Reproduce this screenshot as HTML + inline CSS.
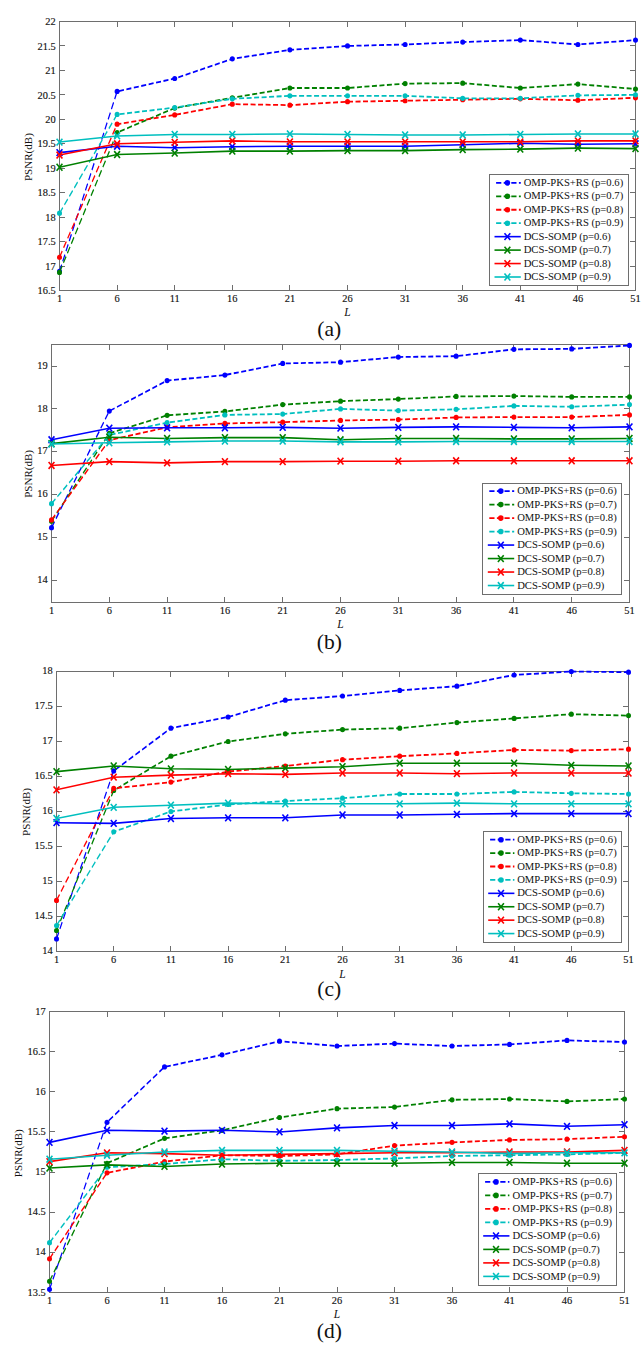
<!DOCTYPE html>
<html><head><meta charset="utf-8"><title>PSNR vs L</title>
<style>
html,body{margin:0;padding:0;background:#fff;}
body{width:641px;height:1358px;overflow:hidden;}
svg{display:block;}
text{font-family:"Liberation Serif",serif;fill:#111111;}
.tk{font-size:10.4px;stroke:#111;stroke-width:0.14px;}
.lg{font-size:10.65px;}
.yl{font-size:11.05px;}
.xl{font-size:11.5px;font-style:italic;}
.cap{font-size:21.5px;}
</style></head>
<body>
<svg width="641" height="1358" viewBox="0 0 641 1358">
<rect x="0" y="0" width="641" height="1358" fill="#ffffff"/>
<g><rect x="59.5" y="21.5" width="576" height="269" fill="none" stroke="#6e6e6e" stroke-width="1"/>
<path d="M59.5 290.5V285M59.5 21.5V27M117.5 290.5V285M117.5 21.5V27M174.5 290.5V285M174.5 21.5V27M232.5 290.5V285M232.5 21.5V27M289.5 290.5V285M289.5 21.5V27M347.5 290.5V285M347.5 21.5V27M405.5 290.5V285M405.5 21.5V27M462.5 290.5V285M462.5 21.5V27M520.5 290.5V285M520.5 21.5V27M577.5 290.5V285M577.5 21.5V27M635.5 290.5V285M635.5 21.5V27M59.5 290.5H65M635.5 290.5H630M59.5 266.5H65M635.5 266.5H630M59.5 241.5H65M635.5 241.5H630M59.5 217.5H65M635.5 217.5H630M59.5 192.5H65M635.5 192.5H630M59.5 168.5H65M635.5 168.5H630M59.5 143.5H65M635.5 143.5H630M59.5 119.5H65M635.5 119.5H630M59.5 94.5H65M635.5 94.5H630M59.5 70.5H65M635.5 70.5H630M59.5 45.5H65M635.5 45.5H630M59.5 21.5H65M635.5 21.5H630" stroke="#6e6e6e" stroke-width="1" fill="none"/>
<text x="59.5" y="301.9" text-anchor="middle" class="tk">1</text>
<text x="117.1" y="301.9" text-anchor="middle" class="tk">6</text>
<text x="174.7" y="301.9" text-anchor="middle" class="tk">11</text>
<text x="232.3" y="301.9" text-anchor="middle" class="tk">16</text>
<text x="289.9" y="301.9" text-anchor="middle" class="tk">21</text>
<text x="347.5" y="301.9" text-anchor="middle" class="tk">26</text>
<text x="405.1" y="301.9" text-anchor="middle" class="tk">31</text>
<text x="462.7" y="301.9" text-anchor="middle" class="tk">36</text>
<text x="520.3" y="301.9" text-anchor="middle" class="tk">41</text>
<text x="577.9" y="301.9" text-anchor="middle" class="tk">46</text>
<text x="635.5" y="301.9" text-anchor="middle" class="tk">51</text>
<text x="55.7" y="294.2" text-anchor="end" class="tk">16.5</text>
<text x="55.7" y="269.75" text-anchor="end" class="tk">17</text>
<text x="55.7" y="245.29" text-anchor="end" class="tk">17.5</text>
<text x="55.7" y="220.84" text-anchor="end" class="tk">18</text>
<text x="55.7" y="196.38" text-anchor="end" class="tk">18.5</text>
<text x="55.7" y="171.93" text-anchor="end" class="tk">19</text>
<text x="55.7" y="147.47" text-anchor="end" class="tk">19.5</text>
<text x="55.7" y="123.02" text-anchor="end" class="tk">20</text>
<text x="55.7" y="98.56" text-anchor="end" class="tk">20.5</text>
<text x="55.7" y="74.11" text-anchor="end" class="tk">21</text>
<text x="55.7" y="49.65" text-anchor="end" class="tk">21.5</text>
<text x="55.7" y="25.2" text-anchor="end" class="tk">22</text>
<text x="347.5" y="315.9" text-anchor="middle" class="xl">L</text>
<text transform="translate(31.6 157.1) rotate(-90)" text-anchor="middle" class="yl">PSNR(dB)</text>
<text x="329.3" y="335.8" text-anchor="middle" class="cap">(a)</text>
<g transform="scale(0.666667 1)"><polyline points="89.25,271.43 175.65,91.44 262.05,78.48 348.45,58.87 434.85,49.87 521.25,45.95 607.65,44.49 694.05,42.04 780.45,40.09 866.85,44.49 953.25,40.09" fill="none" stroke="#0000ff" stroke-width="1.8" stroke-dasharray="7.5 3.75"/></g>
<ellipse cx="59.5" cy="271.43" rx="2.5" ry="2.6" fill="#0000ff"/>
<ellipse cx="117.1" cy="91.44" rx="2.5" ry="2.6" fill="#0000ff"/>
<ellipse cx="174.7" cy="78.48" rx="2.5" ry="2.6" fill="#0000ff"/>
<ellipse cx="232.3" cy="58.87" rx="2.5" ry="2.6" fill="#0000ff"/>
<ellipse cx="289.9" cy="49.87" rx="2.5" ry="2.6" fill="#0000ff"/>
<ellipse cx="347.5" cy="45.95" rx="2.5" ry="2.6" fill="#0000ff"/>
<ellipse cx="405.1" cy="44.49" rx="2.5" ry="2.6" fill="#0000ff"/>
<ellipse cx="462.7" cy="42.04" rx="2.5" ry="2.6" fill="#0000ff"/>
<ellipse cx="520.3" cy="40.09" rx="2.5" ry="2.6" fill="#0000ff"/>
<ellipse cx="577.9" cy="44.49" rx="2.5" ry="2.6" fill="#0000ff"/>
<ellipse cx="635.5" cy="40.09" rx="2.5" ry="2.6" fill="#0000ff"/>
<g transform="scale(0.666667 1)"><polyline points="89.25,272.4 175.65,132.52 262.05,108.07 348.45,97.8 434.85,88.02 521.25,88.02 607.65,83.61 694.05,83.13 780.45,88.02 866.85,84.1 953.25,88.99" fill="none" stroke="#008000" stroke-width="1.8" stroke-dasharray="7.5 3.75"/></g>
<ellipse cx="59.5" cy="272.4" rx="2.5" ry="2.6" fill="#008000"/>
<ellipse cx="117.1" cy="132.52" rx="2.5" ry="2.6" fill="#008000"/>
<ellipse cx="174.7" cy="108.07" rx="2.5" ry="2.6" fill="#008000"/>
<ellipse cx="232.3" cy="97.8" rx="2.5" ry="2.6" fill="#008000"/>
<ellipse cx="289.9" cy="88.02" rx="2.5" ry="2.6" fill="#008000"/>
<ellipse cx="347.5" cy="88.02" rx="2.5" ry="2.6" fill="#008000"/>
<ellipse cx="405.1" cy="83.61" rx="2.5" ry="2.6" fill="#008000"/>
<ellipse cx="462.7" cy="83.13" rx="2.5" ry="2.6" fill="#008000"/>
<ellipse cx="520.3" cy="88.02" rx="2.5" ry="2.6" fill="#008000"/>
<ellipse cx="577.9" cy="84.1" rx="2.5" ry="2.6" fill="#008000"/>
<ellipse cx="635.5" cy="88.99" rx="2.5" ry="2.6" fill="#008000"/>
<g transform="scale(0.666667 1)"><polyline points="89.25,257.24 175.65,124.21 262.05,114.92 348.45,104.16 434.85,105.13 521.25,101.71 607.65,100.73 694.05,99.75 780.45,98.78 866.85,100.24 953.25,97.8" fill="none" stroke="#ff0000" stroke-width="1.8" stroke-dasharray="7.5 3.75"/></g>
<ellipse cx="59.5" cy="257.24" rx="2.5" ry="2.6" fill="#ff0000"/>
<ellipse cx="117.1" cy="124.21" rx="2.5" ry="2.6" fill="#ff0000"/>
<ellipse cx="174.7" cy="114.92" rx="2.5" ry="2.6" fill="#ff0000"/>
<ellipse cx="232.3" cy="104.16" rx="2.5" ry="2.6" fill="#ff0000"/>
<ellipse cx="289.9" cy="105.13" rx="2.5" ry="2.6" fill="#ff0000"/>
<ellipse cx="347.5" cy="101.71" rx="2.5" ry="2.6" fill="#ff0000"/>
<ellipse cx="405.1" cy="100.73" rx="2.5" ry="2.6" fill="#ff0000"/>
<ellipse cx="462.7" cy="99.75" rx="2.5" ry="2.6" fill="#ff0000"/>
<ellipse cx="520.3" cy="98.78" rx="2.5" ry="2.6" fill="#ff0000"/>
<ellipse cx="577.9" cy="100.24" rx="2.5" ry="2.6" fill="#ff0000"/>
<ellipse cx="635.5" cy="97.8" rx="2.5" ry="2.6" fill="#ff0000"/>
<g transform="scale(0.666667 1)"><polyline points="89.25,213.22 175.65,114.43 262.05,107.58 348.45,98.78 434.85,95.84 521.25,95.84 607.65,95.84 694.05,98.29 780.45,98.29 866.85,95.35 953.25,94.86" fill="none" stroke="#00bfbf" stroke-width="1.8" stroke-dasharray="7.5 3.75"/></g>
<ellipse cx="59.5" cy="213.22" rx="2.5" ry="2.6" fill="#00bfbf"/>
<ellipse cx="117.1" cy="114.43" rx="2.5" ry="2.6" fill="#00bfbf"/>
<ellipse cx="174.7" cy="107.58" rx="2.5" ry="2.6" fill="#00bfbf"/>
<ellipse cx="232.3" cy="98.78" rx="2.5" ry="2.6" fill="#00bfbf"/>
<ellipse cx="289.9" cy="95.84" rx="2.5" ry="2.6" fill="#00bfbf"/>
<ellipse cx="347.5" cy="95.84" rx="2.5" ry="2.6" fill="#00bfbf"/>
<ellipse cx="405.1" cy="95.84" rx="2.5" ry="2.6" fill="#00bfbf"/>
<ellipse cx="462.7" cy="98.29" rx="2.5" ry="2.6" fill="#00bfbf"/>
<ellipse cx="520.3" cy="98.29" rx="2.5" ry="2.6" fill="#00bfbf"/>
<ellipse cx="577.9" cy="95.35" rx="2.5" ry="2.6" fill="#00bfbf"/>
<ellipse cx="635.5" cy="94.86" rx="2.5" ry="2.6" fill="#00bfbf"/>
<g transform="scale(0.666667 1)"><polyline points="89.25,152.58 175.65,146.22 262.05,147.69 348.45,146.71 434.85,146.22 521.25,146.22 607.65,146.22 694.05,144.75 780.45,143.28 866.85,144.26 953.25,143.77" fill="none" stroke="#0000ff" stroke-width="1.6"/></g>
<path d="M56.6 149.18L62.4 155.98M56.6 155.98L62.4 149.18" stroke="#0000ff" stroke-width="1.6" fill="none"/>
<path d="M114.2 142.82L120 149.62M114.2 149.62L120 142.82" stroke="#0000ff" stroke-width="1.6" fill="none"/>
<path d="M171.8 144.29L177.6 151.09M171.8 151.09L177.6 144.29" stroke="#0000ff" stroke-width="1.6" fill="none"/>
<path d="M229.4 143.31L235.2 150.11M229.4 150.11L235.2 143.31" stroke="#0000ff" stroke-width="1.6" fill="none"/>
<path d="M287 142.82L292.8 149.62M287 149.62L292.8 142.82" stroke="#0000ff" stroke-width="1.6" fill="none"/>
<path d="M344.6 142.82L350.4 149.62M344.6 149.62L350.4 142.82" stroke="#0000ff" stroke-width="1.6" fill="none"/>
<path d="M402.2 142.82L408 149.62M402.2 149.62L408 142.82" stroke="#0000ff" stroke-width="1.6" fill="none"/>
<path d="M459.8 141.35L465.6 148.15M459.8 148.15L465.6 141.35" stroke="#0000ff" stroke-width="1.6" fill="none"/>
<path d="M517.4 139.88L523.2 146.68M517.4 146.68L523.2 139.88" stroke="#0000ff" stroke-width="1.6" fill="none"/>
<path d="M575 140.86L580.8 147.66M575 147.66L580.8 140.86" stroke="#0000ff" stroke-width="1.6" fill="none"/>
<path d="M632.6 140.37L638.4 147.17M632.6 147.17L638.4 140.37" stroke="#0000ff" stroke-width="1.6" fill="none"/>
<g transform="scale(0.666667 1)"><polyline points="89.25,167.25 175.65,154.53 262.05,153.07 348.45,151.11 434.85,151.11 521.25,150.62 607.65,150.62 694.05,149.64 780.45,149.15 866.85,148.17 953.25,148.66" fill="none" stroke="#008000" stroke-width="1.6"/></g>
<path d="M56.6 163.85L62.4 170.65M56.6 170.65L62.4 163.85" stroke="#008000" stroke-width="1.6" fill="none"/>
<path d="M114.2 151.13L120 157.93M114.2 157.93L120 151.13" stroke="#008000" stroke-width="1.6" fill="none"/>
<path d="M171.8 149.67L177.6 156.47M171.8 156.47L177.6 149.67" stroke="#008000" stroke-width="1.6" fill="none"/>
<path d="M229.4 147.71L235.2 154.51M229.4 154.51L235.2 147.71" stroke="#008000" stroke-width="1.6" fill="none"/>
<path d="M287 147.71L292.8 154.51M287 154.51L292.8 147.71" stroke="#008000" stroke-width="1.6" fill="none"/>
<path d="M344.6 147.22L350.4 154.02M344.6 154.02L350.4 147.22" stroke="#008000" stroke-width="1.6" fill="none"/>
<path d="M402.2 147.22L408 154.02M402.2 154.02L408 147.22" stroke="#008000" stroke-width="1.6" fill="none"/>
<path d="M459.8 146.24L465.6 153.04M459.8 153.04L465.6 146.24" stroke="#008000" stroke-width="1.6" fill="none"/>
<path d="M517.4 145.75L523.2 152.55M517.4 152.55L523.2 145.75" stroke="#008000" stroke-width="1.6" fill="none"/>
<path d="M575 144.77L580.8 151.57M575 151.57L580.8 144.77" stroke="#008000" stroke-width="1.6" fill="none"/>
<path d="M632.6 145.26L638.4 152.06M632.6 152.06L638.4 145.26" stroke="#008000" stroke-width="1.6" fill="none"/>
<g transform="scale(0.666667 1)"><polyline points="89.25,155.02 175.65,143.77 262.05,142.31 348.45,140.84 434.85,141.82 521.25,141.82 607.65,141.82 694.05,141.82 780.45,141.82 866.85,140.84 953.25,140.84" fill="none" stroke="#ff0000" stroke-width="1.6"/></g>
<path d="M56.6 151.62L62.4 158.42M56.6 158.42L62.4 151.62" stroke="#ff0000" stroke-width="1.6" fill="none"/>
<path d="M114.2 140.37L120 147.17M114.2 147.17L120 140.37" stroke="#ff0000" stroke-width="1.6" fill="none"/>
<path d="M171.8 138.91L177.6 145.71M171.8 145.71L177.6 138.91" stroke="#ff0000" stroke-width="1.6" fill="none"/>
<path d="M229.4 137.44L235.2 144.24M229.4 144.24L235.2 137.44" stroke="#ff0000" stroke-width="1.6" fill="none"/>
<path d="M287 138.42L292.8 145.22M287 145.22L292.8 138.42" stroke="#ff0000" stroke-width="1.6" fill="none"/>
<path d="M344.6 138.42L350.4 145.22M344.6 145.22L350.4 138.42" stroke="#ff0000" stroke-width="1.6" fill="none"/>
<path d="M402.2 138.42L408 145.22M402.2 145.22L408 138.42" stroke="#ff0000" stroke-width="1.6" fill="none"/>
<path d="M459.8 138.42L465.6 145.22M459.8 145.22L465.6 138.42" stroke="#ff0000" stroke-width="1.6" fill="none"/>
<path d="M517.4 138.42L523.2 145.22M517.4 145.22L523.2 138.42" stroke="#ff0000" stroke-width="1.6" fill="none"/>
<path d="M575 137.44L580.8 144.24M575 144.24L580.8 137.44" stroke="#ff0000" stroke-width="1.6" fill="none"/>
<path d="M632.6 137.44L638.4 144.24M632.6 144.24L638.4 137.44" stroke="#ff0000" stroke-width="1.6" fill="none"/>
<g transform="scale(0.666667 1)"><polyline points="89.25,142.06 175.65,135.95 262.05,134.48 348.45,134.48 434.85,133.99 521.25,134.48 607.65,134.97 694.05,134.97 780.45,134.48 866.85,133.99 953.25,133.99" fill="none" stroke="#00bfbf" stroke-width="1.6"/></g>
<path d="M56.6 138.66L62.4 145.46M56.6 145.46L62.4 138.66" stroke="#00bfbf" stroke-width="1.6" fill="none"/>
<path d="M114.2 132.55L120 139.35M114.2 139.35L120 132.55" stroke="#00bfbf" stroke-width="1.6" fill="none"/>
<path d="M171.8 131.08L177.6 137.88M171.8 137.88L177.6 131.08" stroke="#00bfbf" stroke-width="1.6" fill="none"/>
<path d="M229.4 131.08L235.2 137.88M229.4 137.88L235.2 131.08" stroke="#00bfbf" stroke-width="1.6" fill="none"/>
<path d="M287 130.59L292.8 137.39M287 137.39L292.8 130.59" stroke="#00bfbf" stroke-width="1.6" fill="none"/>
<path d="M344.6 131.08L350.4 137.88M344.6 137.88L350.4 131.08" stroke="#00bfbf" stroke-width="1.6" fill="none"/>
<path d="M402.2 131.57L408 138.37M402.2 138.37L408 131.57" stroke="#00bfbf" stroke-width="1.6" fill="none"/>
<path d="M459.8 131.57L465.6 138.37M459.8 138.37L465.6 131.57" stroke="#00bfbf" stroke-width="1.6" fill="none"/>
<path d="M517.4 131.08L523.2 137.88M517.4 137.88L523.2 131.08" stroke="#00bfbf" stroke-width="1.6" fill="none"/>
<path d="M575 130.59L580.8 137.39M575 137.39L580.8 130.59" stroke="#00bfbf" stroke-width="1.6" fill="none"/>
<path d="M632.6 130.59L638.4 137.39M632.6 137.39L638.4 130.59" stroke="#00bfbf" stroke-width="1.6" fill="none"/>
<rect x="489.5" y="174.5" width="139" height="111" fill="#ffffff" stroke="#6e6e6e" stroke-width="1"/>
<path d="M496.1 182.85H520.8" stroke="#0000ff" stroke-width="1.8" stroke-dasharray="5.2 2.4" fill="none"/>
<circle cx="507.4" cy="182.85" r="2.8000000000000003" fill="#0000ff"/>
<text x="523.7" y="186" class="lg">OMP-PKS+RS (p=0.6)</text>
<path d="M496.1 196.3H520.8" stroke="#008000" stroke-width="1.8" stroke-dasharray="5.2 2.4" fill="none"/>
<circle cx="507.4" cy="196.3" r="2.8000000000000003" fill="#008000"/>
<text x="523.7" y="199.45" class="lg">OMP-PKS+RS (p=0.7)</text>
<path d="M496.1 209.75H520.8" stroke="#ff0000" stroke-width="1.8" stroke-dasharray="5.2 2.4" fill="none"/>
<circle cx="507.4" cy="209.75" r="2.8000000000000003" fill="#ff0000"/>
<text x="523.7" y="212.9" class="lg">OMP-PKS+RS (p=0.8)</text>
<path d="M496.1 223.2H520.8" stroke="#00bfbf" stroke-width="1.8" stroke-dasharray="5.2 2.4" fill="none"/>
<circle cx="507.4" cy="223.2" r="2.8000000000000003" fill="#00bfbf"/>
<text x="523.7" y="226.35" class="lg">OMP-PKS+RS (p=0.9)</text>
<path d="M494.5 236.65H520.8" stroke="#0000ff" stroke-width="1.6" fill="none"/>
<path d="M504.5 233.25L510.3 240.05M504.5 240.05L510.3 233.25" stroke="#0000ff" stroke-width="1.6" fill="none"/>
<text x="523.7" y="239.8" class="lg">DCS-SOMP (p=0.6)</text>
<path d="M494.5 250.1H520.8" stroke="#008000" stroke-width="1.6" fill="none"/>
<path d="M504.5 246.7L510.3 253.5M504.5 253.5L510.3 246.7" stroke="#008000" stroke-width="1.6" fill="none"/>
<text x="523.7" y="253.25" class="lg">DCS-SOMP (p=0.7)</text>
<path d="M494.5 263.55H520.8" stroke="#ff0000" stroke-width="1.6" fill="none"/>
<path d="M504.5 260.15L510.3 266.95M504.5 266.95L510.3 260.15" stroke="#ff0000" stroke-width="1.6" fill="none"/>
<text x="523.7" y="266.7" class="lg">DCS-SOMP (p=0.8)</text>
<path d="M494.5 277H520.8" stroke="#00bfbf" stroke-width="1.6" fill="none"/>
<path d="M504.5 273.6L510.3 280.4M504.5 280.4L510.3 273.6" stroke="#00bfbf" stroke-width="1.6" fill="none"/>
<text x="523.7" y="280.15" class="lg">DCS-SOMP (p=0.9)</text></g>
<g><rect x="51.5" y="344.5" width="578" height="258" fill="none" stroke="#6e6e6e" stroke-width="1"/>
<path d="M51.5 602.5V597M51.5 344.5V350M109.5 602.5V597M109.5 344.5V350M167.5 602.5V597M167.5 344.5V350M224.5 602.5V597M224.5 344.5V350M282.5 602.5V597M282.5 344.5V350M340.5 602.5V597M340.5 344.5V350M398.5 602.5V597M398.5 344.5V350M456.5 602.5V597M456.5 344.5V350M513.5 602.5V597M513.5 344.5V350M571.5 602.5V597M571.5 344.5V350M629.5 602.5V597M629.5 344.5V350M51.5 580.5H57M629.5 580.5H624M51.5 537.5H57M629.5 537.5H624M51.5 494.5H57M629.5 494.5H624M51.5 451.5H57M629.5 451.5H624M51.5 408.5H57M629.5 408.5H624M51.5 366.5H57M629.5 366.5H624" stroke="#6e6e6e" stroke-width="1" fill="none"/>
<text x="51.5" y="613.9" text-anchor="middle" class="tk">1</text>
<text x="109.3" y="613.9" text-anchor="middle" class="tk">6</text>
<text x="167.1" y="613.9" text-anchor="middle" class="tk">11</text>
<text x="224.9" y="613.9" text-anchor="middle" class="tk">16</text>
<text x="282.7" y="613.9" text-anchor="middle" class="tk">21</text>
<text x="340.5" y="613.9" text-anchor="middle" class="tk">26</text>
<text x="398.3" y="613.9" text-anchor="middle" class="tk">31</text>
<text x="456.1" y="613.9" text-anchor="middle" class="tk">36</text>
<text x="513.9" y="613.9" text-anchor="middle" class="tk">41</text>
<text x="571.7" y="613.9" text-anchor="middle" class="tk">46</text>
<text x="629.5" y="613.9" text-anchor="middle" class="tk">51</text>
<text x="47.7" y="582.97" text-anchor="end" class="tk">14</text>
<text x="47.7" y="540.1" text-anchor="end" class="tk">15</text>
<text x="47.7" y="497.23" text-anchor="end" class="tk">16</text>
<text x="47.7" y="454.37" text-anchor="end" class="tk">17</text>
<text x="47.7" y="411.5" text-anchor="end" class="tk">18</text>
<text x="47.7" y="368.63" text-anchor="end" class="tk">19</text>
<text x="340.5" y="627.9" text-anchor="middle" class="xl">L</text>
<text transform="translate(32 473.9) rotate(-90)" text-anchor="middle" class="yl">PSNR(dB)</text>
<text x="329.3" y="648.8" text-anchor="middle" class="cap">(b)</text>
<g transform="scale(0.666667 1)"><polyline points="77.25,527.64 163.95,411.04 250.65,380.61 337.35,375.04 424.05,363.46 510.75,362.18 597.45,357.03 684.15,356.17 770.85,349.32 857.55,348.89 944.25,345.46" fill="none" stroke="#0000ff" stroke-width="1.8" stroke-dasharray="7.5 3.75"/></g>
<ellipse cx="51.5" cy="527.64" rx="2.5" ry="2.6" fill="#0000ff"/>
<ellipse cx="109.3" cy="411.04" rx="2.5" ry="2.6" fill="#0000ff"/>
<ellipse cx="167.1" cy="380.61" rx="2.5" ry="2.6" fill="#0000ff"/>
<ellipse cx="224.9" cy="375.04" rx="2.5" ry="2.6" fill="#0000ff"/>
<ellipse cx="282.7" cy="363.46" rx="2.5" ry="2.6" fill="#0000ff"/>
<ellipse cx="340.5" cy="362.18" rx="2.5" ry="2.6" fill="#0000ff"/>
<ellipse cx="398.3" cy="357.03" rx="2.5" ry="2.6" fill="#0000ff"/>
<ellipse cx="456.1" cy="356.17" rx="2.5" ry="2.6" fill="#0000ff"/>
<ellipse cx="513.9" cy="349.32" rx="2.5" ry="2.6" fill="#0000ff"/>
<ellipse cx="571.7" cy="348.89" rx="2.5" ry="2.6" fill="#0000ff"/>
<ellipse cx="629.5" cy="345.46" rx="2.5" ry="2.6" fill="#0000ff"/>
<g transform="scale(0.666667 1)"><polyline points="77.25,521.21 163.95,433.33 250.65,415.33 337.35,411.47 424.05,404.61 510.75,401.18 597.45,399.04 684.15,396.47 770.85,396.04 857.55,396.9 944.25,396.9" fill="none" stroke="#008000" stroke-width="1.8" stroke-dasharray="7.5 3.75"/></g>
<ellipse cx="51.5" cy="521.21" rx="2.5" ry="2.6" fill="#008000"/>
<ellipse cx="109.3" cy="433.33" rx="2.5" ry="2.6" fill="#008000"/>
<ellipse cx="167.1" cy="415.33" rx="2.5" ry="2.6" fill="#008000"/>
<ellipse cx="224.9" cy="411.47" rx="2.5" ry="2.6" fill="#008000"/>
<ellipse cx="282.7" cy="404.61" rx="2.5" ry="2.6" fill="#008000"/>
<ellipse cx="340.5" cy="401.18" rx="2.5" ry="2.6" fill="#008000"/>
<ellipse cx="398.3" cy="399.04" rx="2.5" ry="2.6" fill="#008000"/>
<ellipse cx="456.1" cy="396.47" rx="2.5" ry="2.6" fill="#008000"/>
<ellipse cx="513.9" cy="396.04" rx="2.5" ry="2.6" fill="#008000"/>
<ellipse cx="571.7" cy="396.9" rx="2.5" ry="2.6" fill="#008000"/>
<ellipse cx="629.5" cy="396.9" rx="2.5" ry="2.6" fill="#008000"/>
<g transform="scale(0.666667 1)"><polyline points="77.25,519.92 163.95,440.19 250.65,427.33 337.35,423.47 424.05,422.19 510.75,420.47 597.45,419.62 684.15,417.47 770.85,417.04 857.55,417.04 944.25,414.9" fill="none" stroke="#ff0000" stroke-width="1.8" stroke-dasharray="7.5 3.75"/></g>
<ellipse cx="51.5" cy="519.92" rx="2.5" ry="2.6" fill="#ff0000"/>
<ellipse cx="109.3" cy="440.19" rx="2.5" ry="2.6" fill="#ff0000"/>
<ellipse cx="167.1" cy="427.33" rx="2.5" ry="2.6" fill="#ff0000"/>
<ellipse cx="224.9" cy="423.47" rx="2.5" ry="2.6" fill="#ff0000"/>
<ellipse cx="282.7" cy="422.19" rx="2.5" ry="2.6" fill="#ff0000"/>
<ellipse cx="340.5" cy="420.47" rx="2.5" ry="2.6" fill="#ff0000"/>
<ellipse cx="398.3" cy="419.62" rx="2.5" ry="2.6" fill="#ff0000"/>
<ellipse cx="456.1" cy="417.47" rx="2.5" ry="2.6" fill="#ff0000"/>
<ellipse cx="513.9" cy="417.04" rx="2.5" ry="2.6" fill="#ff0000"/>
<ellipse cx="571.7" cy="417.04" rx="2.5" ry="2.6" fill="#ff0000"/>
<ellipse cx="629.5" cy="414.9" rx="2.5" ry="2.6" fill="#ff0000"/>
<g transform="scale(0.666667 1)"><polyline points="77.25,503.64 163.95,435.05 250.65,422.62 337.35,414.9 424.05,414.04 510.75,408.9 597.45,410.61 684.15,409.33 770.85,405.9 857.55,406.76 944.25,404.61" fill="none" stroke="#00bfbf" stroke-width="1.8" stroke-dasharray="7.5 3.75"/></g>
<ellipse cx="51.5" cy="503.64" rx="2.5" ry="2.6" fill="#00bfbf"/>
<ellipse cx="109.3" cy="435.05" rx="2.5" ry="2.6" fill="#00bfbf"/>
<ellipse cx="167.1" cy="422.62" rx="2.5" ry="2.6" fill="#00bfbf"/>
<ellipse cx="224.9" cy="414.9" rx="2.5" ry="2.6" fill="#00bfbf"/>
<ellipse cx="282.7" cy="414.04" rx="2.5" ry="2.6" fill="#00bfbf"/>
<ellipse cx="340.5" cy="408.9" rx="2.5" ry="2.6" fill="#00bfbf"/>
<ellipse cx="398.3" cy="410.61" rx="2.5" ry="2.6" fill="#00bfbf"/>
<ellipse cx="456.1" cy="409.33" rx="2.5" ry="2.6" fill="#00bfbf"/>
<ellipse cx="513.9" cy="405.9" rx="2.5" ry="2.6" fill="#00bfbf"/>
<ellipse cx="571.7" cy="406.76" rx="2.5" ry="2.6" fill="#00bfbf"/>
<ellipse cx="629.5" cy="404.61" rx="2.5" ry="2.6" fill="#00bfbf"/>
<g transform="scale(0.666667 1)"><polyline points="77.25,439.76 163.95,428.19 250.65,427.76 337.35,427.76 424.05,427.33 510.75,428.19 597.45,427.33 684.15,426.9 770.85,427.33 857.55,427.76 944.25,426.9" fill="none" stroke="#0000ff" stroke-width="1.6"/></g>
<path d="M48.6 436.36L54.4 443.16M48.6 443.16L54.4 436.36" stroke="#0000ff" stroke-width="1.6" fill="none"/>
<path d="M106.4 424.79L112.2 431.59M106.4 431.59L112.2 424.79" stroke="#0000ff" stroke-width="1.6" fill="none"/>
<path d="M164.2 424.36L170 431.16M164.2 431.16L170 424.36" stroke="#0000ff" stroke-width="1.6" fill="none"/>
<path d="M222 424.36L227.8 431.16M222 431.16L227.8 424.36" stroke="#0000ff" stroke-width="1.6" fill="none"/>
<path d="M279.8 423.93L285.6 430.73M279.8 430.73L285.6 423.93" stroke="#0000ff" stroke-width="1.6" fill="none"/>
<path d="M337.6 424.79L343.4 431.59M337.6 431.59L343.4 424.79" stroke="#0000ff" stroke-width="1.6" fill="none"/>
<path d="M395.4 423.93L401.2 430.73M395.4 430.73L401.2 423.93" stroke="#0000ff" stroke-width="1.6" fill="none"/>
<path d="M453.2 423.5L459 430.3M453.2 430.3L459 423.5" stroke="#0000ff" stroke-width="1.6" fill="none"/>
<path d="M511 423.93L516.8 430.73M511 430.73L516.8 423.93" stroke="#0000ff" stroke-width="1.6" fill="none"/>
<path d="M568.8 424.36L574.6 431.16M568.8 431.16L574.6 424.36" stroke="#0000ff" stroke-width="1.6" fill="none"/>
<path d="M626.6 423.5L632.4 430.3M626.6 430.3L632.4 423.5" stroke="#0000ff" stroke-width="1.6" fill="none"/>
<g transform="scale(0.666667 1)"><polyline points="77.25,443.62 163.95,437.19 250.65,438.48 337.35,437.62 424.05,437.62 510.75,439.76 597.45,438.48 684.15,438.48 770.85,438.91 857.55,438.91 944.25,438.48" fill="none" stroke="#008000" stroke-width="1.6"/></g>
<path d="M48.6 440.22L54.4 447.02M48.6 447.02L54.4 440.22" stroke="#008000" stroke-width="1.6" fill="none"/>
<path d="M106.4 433.79L112.2 440.59M106.4 440.59L112.2 433.79" stroke="#008000" stroke-width="1.6" fill="none"/>
<path d="M164.2 435.08L170 441.88M164.2 441.88L170 435.08" stroke="#008000" stroke-width="1.6" fill="none"/>
<path d="M222 434.22L227.8 441.02M222 441.02L227.8 434.22" stroke="#008000" stroke-width="1.6" fill="none"/>
<path d="M279.8 434.22L285.6 441.02M279.8 441.02L285.6 434.22" stroke="#008000" stroke-width="1.6" fill="none"/>
<path d="M337.6 436.36L343.4 443.16M337.6 443.16L343.4 436.36" stroke="#008000" stroke-width="1.6" fill="none"/>
<path d="M395.4 435.08L401.2 441.88M395.4 441.88L401.2 435.08" stroke="#008000" stroke-width="1.6" fill="none"/>
<path d="M453.2 435.08L459 441.88M453.2 441.88L459 435.08" stroke="#008000" stroke-width="1.6" fill="none"/>
<path d="M511 435.51L516.8 442.31M511 442.31L516.8 435.51" stroke="#008000" stroke-width="1.6" fill="none"/>
<path d="M568.8 435.51L574.6 442.31M568.8 442.31L574.6 435.51" stroke="#008000" stroke-width="1.6" fill="none"/>
<path d="M626.6 435.08L632.4 441.88M626.6 441.88L632.4 435.08" stroke="#008000" stroke-width="1.6" fill="none"/>
<g transform="scale(0.666667 1)"><polyline points="77.25,465.48 163.95,461.63 250.65,462.91 337.35,461.63 424.05,461.63 510.75,461.2 597.45,461.2 684.15,460.77 770.85,460.77 857.55,460.77 944.25,460.77" fill="none" stroke="#ff0000" stroke-width="1.6"/></g>
<path d="M48.6 462.08L54.4 468.88M48.6 468.88L54.4 462.08" stroke="#ff0000" stroke-width="1.6" fill="none"/>
<path d="M106.4 458.23L112.2 465.03M106.4 465.03L112.2 458.23" stroke="#ff0000" stroke-width="1.6" fill="none"/>
<path d="M164.2 459.51L170 466.31M164.2 466.31L170 459.51" stroke="#ff0000" stroke-width="1.6" fill="none"/>
<path d="M222 458.23L227.8 465.03M222 465.03L227.8 458.23" stroke="#ff0000" stroke-width="1.6" fill="none"/>
<path d="M279.8 458.23L285.6 465.03M279.8 465.03L285.6 458.23" stroke="#ff0000" stroke-width="1.6" fill="none"/>
<path d="M337.6 457.8L343.4 464.6M337.6 464.6L343.4 457.8" stroke="#ff0000" stroke-width="1.6" fill="none"/>
<path d="M395.4 457.8L401.2 464.6M395.4 464.6L401.2 457.8" stroke="#ff0000" stroke-width="1.6" fill="none"/>
<path d="M453.2 457.37L459 464.17M453.2 464.17L459 457.37" stroke="#ff0000" stroke-width="1.6" fill="none"/>
<path d="M511 457.37L516.8 464.17M511 464.17L516.8 457.37" stroke="#ff0000" stroke-width="1.6" fill="none"/>
<path d="M568.8 457.37L574.6 464.17M568.8 464.17L574.6 457.37" stroke="#ff0000" stroke-width="1.6" fill="none"/>
<path d="M626.6 457.37L632.4 464.17M626.6 464.17L632.4 457.37" stroke="#ff0000" stroke-width="1.6" fill="none"/>
<g transform="scale(0.666667 1)"><polyline points="77.25,444.05 163.95,442.76 250.65,441.91 337.35,441.05 424.05,441.05 510.75,441.91 597.45,441.91 684.15,441.48 770.85,441.48 857.55,441.48 944.25,441.48" fill="none" stroke="#00bfbf" stroke-width="1.6"/></g>
<path d="M48.6 440.65L54.4 447.45M48.6 447.45L54.4 440.65" stroke="#00bfbf" stroke-width="1.6" fill="none"/>
<path d="M106.4 439.36L112.2 446.16M106.4 446.16L112.2 439.36" stroke="#00bfbf" stroke-width="1.6" fill="none"/>
<path d="M164.2 438.51L170 445.31M164.2 445.31L170 438.51" stroke="#00bfbf" stroke-width="1.6" fill="none"/>
<path d="M222 437.65L227.8 444.45M222 444.45L227.8 437.65" stroke="#00bfbf" stroke-width="1.6" fill="none"/>
<path d="M279.8 437.65L285.6 444.45M279.8 444.45L285.6 437.65" stroke="#00bfbf" stroke-width="1.6" fill="none"/>
<path d="M337.6 438.51L343.4 445.31M337.6 445.31L343.4 438.51" stroke="#00bfbf" stroke-width="1.6" fill="none"/>
<path d="M395.4 438.51L401.2 445.31M395.4 445.31L401.2 438.51" stroke="#00bfbf" stroke-width="1.6" fill="none"/>
<path d="M453.2 438.08L459 444.88M453.2 444.88L459 438.08" stroke="#00bfbf" stroke-width="1.6" fill="none"/>
<path d="M511 438.08L516.8 444.88M511 444.88L516.8 438.08" stroke="#00bfbf" stroke-width="1.6" fill="none"/>
<path d="M568.8 438.08L574.6 444.88M568.8 444.88L574.6 438.08" stroke="#00bfbf" stroke-width="1.6" fill="none"/>
<path d="M626.6 438.08L632.4 444.88M626.6 444.88L632.4 438.08" stroke="#00bfbf" stroke-width="1.6" fill="none"/>
<rect x="482.5" y="483.5" width="139" height="111" fill="#ffffff" stroke="#6e6e6e" stroke-width="1"/>
<path d="M489.3 491.1H514.2" stroke="#0000ff" stroke-width="1.8" stroke-dasharray="5.2 2.4" fill="none"/>
<circle cx="500.8" cy="491.1" r="2.8000000000000003" fill="#0000ff"/>
<text x="517.2" y="494.25" class="lg">OMP-PKS+RS (p=0.6)</text>
<path d="M489.3 504.59H514.2" stroke="#008000" stroke-width="1.8" stroke-dasharray="5.2 2.4" fill="none"/>
<circle cx="500.8" cy="504.59" r="2.8000000000000003" fill="#008000"/>
<text x="517.2" y="507.74" class="lg">OMP-PKS+RS (p=0.7)</text>
<path d="M489.3 518.08H514.2" stroke="#ff0000" stroke-width="1.8" stroke-dasharray="5.2 2.4" fill="none"/>
<circle cx="500.8" cy="518.08" r="2.8000000000000003" fill="#ff0000"/>
<text x="517.2" y="521.23" class="lg">OMP-PKS+RS (p=0.8)</text>
<path d="M489.3 531.57H514.2" stroke="#00bfbf" stroke-width="1.8" stroke-dasharray="5.2 2.4" fill="none"/>
<circle cx="500.8" cy="531.57" r="2.8000000000000003" fill="#00bfbf"/>
<text x="517.2" y="534.72" class="lg">OMP-PKS+RS (p=0.9)</text>
<path d="M487.8 545.06H514.2" stroke="#0000ff" stroke-width="1.6" fill="none"/>
<path d="M497.9 541.66L503.7 548.46M497.9 548.46L503.7 541.66" stroke="#0000ff" stroke-width="1.6" fill="none"/>
<text x="517.2" y="548.21" class="lg">DCS-SOMP (p=0.6)</text>
<path d="M487.8 558.55H514.2" stroke="#008000" stroke-width="1.6" fill="none"/>
<path d="M497.9 555.15L503.7 561.95M497.9 561.95L503.7 555.15" stroke="#008000" stroke-width="1.6" fill="none"/>
<text x="517.2" y="561.7" class="lg">DCS-SOMP (p=0.7)</text>
<path d="M487.8 572.04H514.2" stroke="#ff0000" stroke-width="1.6" fill="none"/>
<path d="M497.9 568.64L503.7 575.44M497.9 575.44L503.7 568.64" stroke="#ff0000" stroke-width="1.6" fill="none"/>
<text x="517.2" y="575.19" class="lg">DCS-SOMP (p=0.8)</text>
<path d="M487.8 585.53H514.2" stroke="#00bfbf" stroke-width="1.6" fill="none"/>
<path d="M497.9 582.13L503.7 588.93M497.9 588.93L503.7 582.13" stroke="#00bfbf" stroke-width="1.6" fill="none"/>
<text x="517.2" y="588.68" class="lg">DCS-SOMP (p=0.9)</text></g>
<g><rect x="56.5" y="671.5" width="572" height="280" fill="none" stroke="#6e6e6e" stroke-width="1"/>
<path d="M56.5 951.5V946M56.5 671.5V677M113.5 951.5V946M113.5 671.5V677M170.5 951.5V946M170.5 671.5V677M228.5 951.5V946M228.5 671.5V677M285.5 951.5V946M285.5 671.5V677M342.5 951.5V946M342.5 671.5V677M399.5 951.5V946M399.5 671.5V677M456.5 951.5V946M456.5 671.5V677M514.5 951.5V946M514.5 671.5V677M571.5 951.5V946M571.5 671.5V677M628.5 951.5V946M628.5 671.5V677M56.5 951.5H62M628.5 951.5H623M56.5 916.5H62M628.5 916.5H623M56.5 881.5H62M628.5 881.5H623M56.5 846.5H62M628.5 846.5H623M56.5 811.5H62M628.5 811.5H623M56.5 776.5H62M628.5 776.5H623M56.5 741.5H62M628.5 741.5H623M56.5 706.5H62M628.5 706.5H623M56.5 671.5H62M628.5 671.5H623" stroke="#6e6e6e" stroke-width="1" fill="none"/>
<text x="56.5" y="962.9" text-anchor="middle" class="tk">1</text>
<text x="113.7" y="962.9" text-anchor="middle" class="tk">6</text>
<text x="170.9" y="962.9" text-anchor="middle" class="tk">11</text>
<text x="228.1" y="962.9" text-anchor="middle" class="tk">16</text>
<text x="285.3" y="962.9" text-anchor="middle" class="tk">21</text>
<text x="342.5" y="962.9" text-anchor="middle" class="tk">26</text>
<text x="399.7" y="962.9" text-anchor="middle" class="tk">31</text>
<text x="456.9" y="962.9" text-anchor="middle" class="tk">36</text>
<text x="514.1" y="962.9" text-anchor="middle" class="tk">41</text>
<text x="571.3" y="962.9" text-anchor="middle" class="tk">46</text>
<text x="628.5" y="962.9" text-anchor="middle" class="tk">51</text>
<text x="52.7" y="953.8" text-anchor="end" class="tk">14</text>
<text x="52.7" y="918.8" text-anchor="end" class="tk">14.5</text>
<text x="52.7" y="883.8" text-anchor="end" class="tk">15</text>
<text x="52.7" y="848.8" text-anchor="end" class="tk">15.5</text>
<text x="52.7" y="813.8" text-anchor="end" class="tk">16</text>
<text x="52.7" y="778.8" text-anchor="end" class="tk">16.5</text>
<text x="52.7" y="743.8" text-anchor="end" class="tk">17</text>
<text x="52.7" y="708.8" text-anchor="end" class="tk">17.5</text>
<text x="52.7" y="673.8" text-anchor="end" class="tk">18</text>
<text x="342.5" y="977.9" text-anchor="middle" class="xl">L</text>
<text transform="translate(29.7 811.95) rotate(-90)" text-anchor="middle" class="yl">PSNR(dB)</text>
<text x="329.3" y="996.4" text-anchor="middle" class="cap">(c)</text>
<g transform="scale(0.666667 1)"><polyline points="84.75,938.9 170.55,770.9 256.35,728.2 342.15,717 427.95,700.2 513.75,696 599.55,690.4 685.35,686.2 771.15,675 856.95,671.5 942.75,672.2" fill="none" stroke="#0000ff" stroke-width="1.8" stroke-dasharray="7.5 3.75"/></g>
<ellipse cx="56.5" cy="938.9" rx="2.5" ry="2.6" fill="#0000ff"/>
<ellipse cx="113.7" cy="770.9" rx="2.5" ry="2.6" fill="#0000ff"/>
<ellipse cx="170.9" cy="728.2" rx="2.5" ry="2.6" fill="#0000ff"/>
<ellipse cx="228.1" cy="717" rx="2.5" ry="2.6" fill="#0000ff"/>
<ellipse cx="285.3" cy="700.2" rx="2.5" ry="2.6" fill="#0000ff"/>
<ellipse cx="342.5" cy="696" rx="2.5" ry="2.6" fill="#0000ff"/>
<ellipse cx="399.7" cy="690.4" rx="2.5" ry="2.6" fill="#0000ff"/>
<ellipse cx="456.9" cy="686.2" rx="2.5" ry="2.6" fill="#0000ff"/>
<ellipse cx="514.1" cy="675" rx="2.5" ry="2.6" fill="#0000ff"/>
<ellipse cx="571.3" cy="671.5" rx="2.5" ry="2.6" fill="#0000ff"/>
<ellipse cx="628.5" cy="672.2" rx="2.5" ry="2.6" fill="#0000ff"/>
<g transform="scale(0.666667 1)"><polyline points="84.75,930.5 170.55,790.5 256.35,756.2 342.15,741.5 427.95,733.8 513.75,729.6 599.55,728.2 685.35,722.6 771.15,718.4 856.95,714.2 942.75,715.6" fill="none" stroke="#008000" stroke-width="1.8" stroke-dasharray="7.5 3.75"/></g>
<ellipse cx="56.5" cy="930.5" rx="2.5" ry="2.6" fill="#008000"/>
<ellipse cx="113.7" cy="790.5" rx="2.5" ry="2.6" fill="#008000"/>
<ellipse cx="170.9" cy="756.2" rx="2.5" ry="2.6" fill="#008000"/>
<ellipse cx="228.1" cy="741.5" rx="2.5" ry="2.6" fill="#008000"/>
<ellipse cx="285.3" cy="733.8" rx="2.5" ry="2.6" fill="#008000"/>
<ellipse cx="342.5" cy="729.6" rx="2.5" ry="2.6" fill="#008000"/>
<ellipse cx="399.7" cy="728.2" rx="2.5" ry="2.6" fill="#008000"/>
<ellipse cx="456.9" cy="722.6" rx="2.5" ry="2.6" fill="#008000"/>
<ellipse cx="514.1" cy="718.4" rx="2.5" ry="2.6" fill="#008000"/>
<ellipse cx="571.3" cy="714.2" rx="2.5" ry="2.6" fill="#008000"/>
<ellipse cx="628.5" cy="715.6" rx="2.5" ry="2.6" fill="#008000"/>
<g transform="scale(0.666667 1)"><polyline points="84.75,900.4 170.55,788.4 256.35,782.1 342.15,771.6 427.95,766 513.75,759.7 599.55,756.2 685.35,753.4 771.15,749.9 856.95,750.6 942.75,749.2" fill="none" stroke="#ff0000" stroke-width="1.8" stroke-dasharray="7.5 3.75"/></g>
<ellipse cx="56.5" cy="900.4" rx="2.5" ry="2.6" fill="#ff0000"/>
<ellipse cx="113.7" cy="788.4" rx="2.5" ry="2.6" fill="#ff0000"/>
<ellipse cx="170.9" cy="782.1" rx="2.5" ry="2.6" fill="#ff0000"/>
<ellipse cx="228.1" cy="771.6" rx="2.5" ry="2.6" fill="#ff0000"/>
<ellipse cx="285.3" cy="766" rx="2.5" ry="2.6" fill="#ff0000"/>
<ellipse cx="342.5" cy="759.7" rx="2.5" ry="2.6" fill="#ff0000"/>
<ellipse cx="399.7" cy="756.2" rx="2.5" ry="2.6" fill="#ff0000"/>
<ellipse cx="456.9" cy="753.4" rx="2.5" ry="2.6" fill="#ff0000"/>
<ellipse cx="514.1" cy="749.9" rx="2.5" ry="2.6" fill="#ff0000"/>
<ellipse cx="571.3" cy="750.6" rx="2.5" ry="2.6" fill="#ff0000"/>
<ellipse cx="628.5" cy="749.2" rx="2.5" ry="2.6" fill="#ff0000"/>
<g transform="scale(0.666667 1)"><polyline points="84.75,925.6 170.55,831.8 256.35,811.5 342.15,804.5 427.95,801 513.75,798.2 599.55,794 685.35,794 771.15,791.9 856.95,793.3 942.75,794" fill="none" stroke="#00bfbf" stroke-width="1.8" stroke-dasharray="7.5 3.75"/></g>
<ellipse cx="56.5" cy="925.6" rx="2.5" ry="2.6" fill="#00bfbf"/>
<ellipse cx="113.7" cy="831.8" rx="2.5" ry="2.6" fill="#00bfbf"/>
<ellipse cx="170.9" cy="811.5" rx="2.5" ry="2.6" fill="#00bfbf"/>
<ellipse cx="228.1" cy="804.5" rx="2.5" ry="2.6" fill="#00bfbf"/>
<ellipse cx="285.3" cy="801" rx="2.5" ry="2.6" fill="#00bfbf"/>
<ellipse cx="342.5" cy="798.2" rx="2.5" ry="2.6" fill="#00bfbf"/>
<ellipse cx="399.7" cy="794" rx="2.5" ry="2.6" fill="#00bfbf"/>
<ellipse cx="456.9" cy="794" rx="2.5" ry="2.6" fill="#00bfbf"/>
<ellipse cx="514.1" cy="791.9" rx="2.5" ry="2.6" fill="#00bfbf"/>
<ellipse cx="571.3" cy="793.3" rx="2.5" ry="2.6" fill="#00bfbf"/>
<ellipse cx="628.5" cy="794" rx="2.5" ry="2.6" fill="#00bfbf"/>
<g transform="scale(0.666667 1)"><polyline points="84.75,822.7 170.55,823.4 256.35,818.5 342.15,817.8 427.95,817.8 513.75,815 599.55,815 685.35,814.3 771.15,813.6 856.95,813.6 942.75,813.6" fill="none" stroke="#0000ff" stroke-width="1.6"/></g>
<path d="M53.6 819.3L59.4 826.1M53.6 826.1L59.4 819.3" stroke="#0000ff" stroke-width="1.6" fill="none"/>
<path d="M110.8 820L116.6 826.8M110.8 826.8L116.6 820" stroke="#0000ff" stroke-width="1.6" fill="none"/>
<path d="M168 815.1L173.8 821.9M168 821.9L173.8 815.1" stroke="#0000ff" stroke-width="1.6" fill="none"/>
<path d="M225.2 814.4L231 821.2M225.2 821.2L231 814.4" stroke="#0000ff" stroke-width="1.6" fill="none"/>
<path d="M282.4 814.4L288.2 821.2M282.4 821.2L288.2 814.4" stroke="#0000ff" stroke-width="1.6" fill="none"/>
<path d="M339.6 811.6L345.4 818.4M339.6 818.4L345.4 811.6" stroke="#0000ff" stroke-width="1.6" fill="none"/>
<path d="M396.8 811.6L402.6 818.4M396.8 818.4L402.6 811.6" stroke="#0000ff" stroke-width="1.6" fill="none"/>
<path d="M454 810.9L459.8 817.7M454 817.7L459.8 810.9" stroke="#0000ff" stroke-width="1.6" fill="none"/>
<path d="M511.2 810.2L517 817M511.2 817L517 810.2" stroke="#0000ff" stroke-width="1.6" fill="none"/>
<path d="M568.4 810.2L574.2 817M568.4 817L574.2 810.2" stroke="#0000ff" stroke-width="1.6" fill="none"/>
<path d="M625.6 810.2L631.4 817M625.6 817L631.4 810.2" stroke="#0000ff" stroke-width="1.6" fill="none"/>
<g transform="scale(0.666667 1)"><polyline points="84.75,771.6 170.55,766 256.35,768.8 342.15,769.5 427.95,768.1 513.75,766.7 599.55,763.2 685.35,763.2 771.15,763.2 856.95,765.3 942.75,766" fill="none" stroke="#008000" stroke-width="1.6"/></g>
<path d="M53.6 768.2L59.4 775M53.6 775L59.4 768.2" stroke="#008000" stroke-width="1.6" fill="none"/>
<path d="M110.8 762.6L116.6 769.4M110.8 769.4L116.6 762.6" stroke="#008000" stroke-width="1.6" fill="none"/>
<path d="M168 765.4L173.8 772.2M168 772.2L173.8 765.4" stroke="#008000" stroke-width="1.6" fill="none"/>
<path d="M225.2 766.1L231 772.9M225.2 772.9L231 766.1" stroke="#008000" stroke-width="1.6" fill="none"/>
<path d="M282.4 764.7L288.2 771.5M282.4 771.5L288.2 764.7" stroke="#008000" stroke-width="1.6" fill="none"/>
<path d="M339.6 763.3L345.4 770.1M339.6 770.1L345.4 763.3" stroke="#008000" stroke-width="1.6" fill="none"/>
<path d="M396.8 759.8L402.6 766.6M396.8 766.6L402.6 759.8" stroke="#008000" stroke-width="1.6" fill="none"/>
<path d="M454 759.8L459.8 766.6M454 766.6L459.8 759.8" stroke="#008000" stroke-width="1.6" fill="none"/>
<path d="M511.2 759.8L517 766.6M511.2 766.6L517 759.8" stroke="#008000" stroke-width="1.6" fill="none"/>
<path d="M568.4 761.9L574.2 768.7M568.4 768.7L574.2 761.9" stroke="#008000" stroke-width="1.6" fill="none"/>
<path d="M625.6 762.6L631.4 769.4M625.6 769.4L631.4 762.6" stroke="#008000" stroke-width="1.6" fill="none"/>
<g transform="scale(0.666667 1)"><polyline points="84.75,789.8 170.55,777.2 256.35,775.1 342.15,773.7 427.95,774.4 513.75,773 599.55,773 685.35,773.7 771.15,773 856.95,773 942.75,773" fill="none" stroke="#ff0000" stroke-width="1.6"/></g>
<path d="M53.6 786.4L59.4 793.2M53.6 793.2L59.4 786.4" stroke="#ff0000" stroke-width="1.6" fill="none"/>
<path d="M110.8 773.8L116.6 780.6M110.8 780.6L116.6 773.8" stroke="#ff0000" stroke-width="1.6" fill="none"/>
<path d="M168 771.7L173.8 778.5M168 778.5L173.8 771.7" stroke="#ff0000" stroke-width="1.6" fill="none"/>
<path d="M225.2 770.3L231 777.1M225.2 777.1L231 770.3" stroke="#ff0000" stroke-width="1.6" fill="none"/>
<path d="M282.4 771L288.2 777.8M282.4 777.8L288.2 771" stroke="#ff0000" stroke-width="1.6" fill="none"/>
<path d="M339.6 769.6L345.4 776.4M339.6 776.4L345.4 769.6" stroke="#ff0000" stroke-width="1.6" fill="none"/>
<path d="M396.8 769.6L402.6 776.4M396.8 776.4L402.6 769.6" stroke="#ff0000" stroke-width="1.6" fill="none"/>
<path d="M454 770.3L459.8 777.1M454 777.1L459.8 770.3" stroke="#ff0000" stroke-width="1.6" fill="none"/>
<path d="M511.2 769.6L517 776.4M511.2 776.4L517 769.6" stroke="#ff0000" stroke-width="1.6" fill="none"/>
<path d="M568.4 769.6L574.2 776.4M568.4 776.4L574.2 769.6" stroke="#ff0000" stroke-width="1.6" fill="none"/>
<path d="M625.6 769.6L631.4 776.4M625.6 776.4L631.4 769.6" stroke="#ff0000" stroke-width="1.6" fill="none"/>
<g transform="scale(0.666667 1)"><polyline points="84.75,818.5 170.55,807.3 256.35,805.2 342.15,803.1 427.95,803.8 513.75,803.8 599.55,803.8 685.35,803.1 771.15,803.8 856.95,803.8 942.75,803.8" fill="none" stroke="#00bfbf" stroke-width="1.6"/></g>
<path d="M53.6 815.1L59.4 821.9M53.6 821.9L59.4 815.1" stroke="#00bfbf" stroke-width="1.6" fill="none"/>
<path d="M110.8 803.9L116.6 810.7M110.8 810.7L116.6 803.9" stroke="#00bfbf" stroke-width="1.6" fill="none"/>
<path d="M168 801.8L173.8 808.6M168 808.6L173.8 801.8" stroke="#00bfbf" stroke-width="1.6" fill="none"/>
<path d="M225.2 799.7L231 806.5M225.2 806.5L231 799.7" stroke="#00bfbf" stroke-width="1.6" fill="none"/>
<path d="M282.4 800.4L288.2 807.2M282.4 807.2L288.2 800.4" stroke="#00bfbf" stroke-width="1.6" fill="none"/>
<path d="M339.6 800.4L345.4 807.2M339.6 807.2L345.4 800.4" stroke="#00bfbf" stroke-width="1.6" fill="none"/>
<path d="M396.8 800.4L402.6 807.2M396.8 807.2L402.6 800.4" stroke="#00bfbf" stroke-width="1.6" fill="none"/>
<path d="M454 799.7L459.8 806.5M454 806.5L459.8 799.7" stroke="#00bfbf" stroke-width="1.6" fill="none"/>
<path d="M511.2 800.4L517 807.2M511.2 807.2L517 800.4" stroke="#00bfbf" stroke-width="1.6" fill="none"/>
<path d="M568.4 800.4L574.2 807.2M568.4 807.2L574.2 800.4" stroke="#00bfbf" stroke-width="1.6" fill="none"/>
<path d="M625.6 800.4L631.4 807.2M625.6 807.2L631.4 800.4" stroke="#00bfbf" stroke-width="1.6" fill="none"/>
<rect x="483.5" y="831.5" width="138" height="111" fill="#ffffff" stroke="#6e6e6e" stroke-width="1"/>
<path d="M490.1 839.7H514.4" stroke="#0000ff" stroke-width="1.8" stroke-dasharray="5.2 2.4" fill="none"/>
<circle cx="501" cy="839.7" r="2.8000000000000003" fill="#0000ff"/>
<text x="517.2" y="842.85" class="lg">OMP-PKS+RS (p=0.6)</text>
<path d="M490.1 853.11H514.4" stroke="#008000" stroke-width="1.8" stroke-dasharray="5.2 2.4" fill="none"/>
<circle cx="501" cy="853.11" r="2.8000000000000003" fill="#008000"/>
<text x="517.2" y="856.26" class="lg">OMP-PKS+RS (p=0.7)</text>
<path d="M490.1 866.52H514.4" stroke="#ff0000" stroke-width="1.8" stroke-dasharray="5.2 2.4" fill="none"/>
<circle cx="501" cy="866.52" r="2.8000000000000003" fill="#ff0000"/>
<text x="517.2" y="869.67" class="lg">OMP-PKS+RS (p=0.8)</text>
<path d="M490.1 879.93H514.4" stroke="#00bfbf" stroke-width="1.8" stroke-dasharray="5.2 2.4" fill="none"/>
<circle cx="501" cy="879.93" r="2.8000000000000003" fill="#00bfbf"/>
<text x="517.2" y="883.08" class="lg">OMP-PKS+RS (p=0.9)</text>
<path d="M488.2 893.34H514.4" stroke="#0000ff" stroke-width="1.6" fill="none"/>
<path d="M498.1 889.94L503.9 896.74M498.1 896.74L503.9 889.94" stroke="#0000ff" stroke-width="1.6" fill="none"/>
<text x="517.2" y="896.49" class="lg">DCS-SOMP (p=0.6)</text>
<path d="M488.2 906.75H514.4" stroke="#008000" stroke-width="1.6" fill="none"/>
<path d="M498.1 903.35L503.9 910.15M498.1 910.15L503.9 903.35" stroke="#008000" stroke-width="1.6" fill="none"/>
<text x="517.2" y="909.9" class="lg">DCS-SOMP (p=0.7)</text>
<path d="M488.2 920.16H514.4" stroke="#ff0000" stroke-width="1.6" fill="none"/>
<path d="M498.1 916.76L503.9 923.56M498.1 923.56L503.9 916.76" stroke="#ff0000" stroke-width="1.6" fill="none"/>
<text x="517.2" y="923.31" class="lg">DCS-SOMP (p=0.8)</text>
<path d="M488.2 933.57H514.4" stroke="#00bfbf" stroke-width="1.6" fill="none"/>
<path d="M498.1 930.17L503.9 936.97M498.1 936.97L503.9 930.17" stroke="#00bfbf" stroke-width="1.6" fill="none"/>
<text x="517.2" y="936.72" class="lg">DCS-SOMP (p=0.9)</text></g>
<g><rect x="49.5" y="1011.5" width="575" height="281" fill="none" stroke="#6e6e6e" stroke-width="1"/>
<path d="M49.5 1292.5V1287M49.5 1011.5V1017M107.5 1292.5V1287M107.5 1011.5V1017M164.5 1292.5V1287M164.5 1011.5V1017M222.5 1292.5V1287M222.5 1011.5V1017M279.5 1292.5V1287M279.5 1011.5V1017M337.5 1292.5V1287M337.5 1011.5V1017M394.5 1292.5V1287M394.5 1011.5V1017M452.5 1292.5V1287M452.5 1011.5V1017M509.5 1292.5V1287M509.5 1011.5V1017M567.5 1292.5V1287M567.5 1011.5V1017M624.5 1292.5V1287M624.5 1011.5V1017M49.5 1292.5H55M624.5 1292.5H619M49.5 1252.5H55M624.5 1252.5H619M49.5 1212.5H55M624.5 1212.5H619M49.5 1172.5H55M624.5 1172.5H619M49.5 1131.5H55M624.5 1131.5H619M49.5 1091.5H55M624.5 1091.5H619M49.5 1051.5H55M624.5 1051.5H619M49.5 1011.5H55M624.5 1011.5H619" stroke="#6e6e6e" stroke-width="1" fill="none"/>
<text x="49.5" y="1303.9" text-anchor="middle" class="tk">1</text>
<text x="107" y="1303.9" text-anchor="middle" class="tk">6</text>
<text x="164.5" y="1303.9" text-anchor="middle" class="tk">11</text>
<text x="222" y="1303.9" text-anchor="middle" class="tk">16</text>
<text x="279.5" y="1303.9" text-anchor="middle" class="tk">21</text>
<text x="337" y="1303.9" text-anchor="middle" class="tk">26</text>
<text x="394.5" y="1303.9" text-anchor="middle" class="tk">31</text>
<text x="452" y="1303.9" text-anchor="middle" class="tk">36</text>
<text x="509.5" y="1303.9" text-anchor="middle" class="tk">41</text>
<text x="567" y="1303.9" text-anchor="middle" class="tk">46</text>
<text x="624.5" y="1303.9" text-anchor="middle" class="tk">51</text>
<text x="45.7" y="1295.5" text-anchor="end" class="tk">13.5</text>
<text x="45.7" y="1255.36" text-anchor="end" class="tk">14</text>
<text x="45.7" y="1215.21" text-anchor="end" class="tk">14.5</text>
<text x="45.7" y="1175.07" text-anchor="end" class="tk">15</text>
<text x="45.7" y="1134.93" text-anchor="end" class="tk">15.5</text>
<text x="45.7" y="1094.79" text-anchor="end" class="tk">16</text>
<text x="45.7" y="1054.64" text-anchor="end" class="tk">16.5</text>
<text x="45.7" y="1014.5" text-anchor="end" class="tk">17</text>
<text x="337" y="1317.9" text-anchor="middle" class="xl">L</text>
<text transform="translate(22 1153.2) rotate(-90)" text-anchor="middle" class="yl">PSNR(dB)</text>
<text x="329.3" y="1338.4" text-anchor="middle" class="cap">(d)</text>
<g transform="scale(0.666667 1)"><polyline points="74.25,1289.29 160.5,1122.29 246.75,1066.9 333,1054.85 419.25,1041.21 505.5,1046.02 591.75,1043.61 678,1046.02 764.25,1044.42 850.5,1040.4 936.75,1042.01" fill="none" stroke="#0000ff" stroke-width="1.8" stroke-dasharray="7.5 3.75"/></g>
<ellipse cx="49.5" cy="1289.29" rx="2.5" ry="2.6" fill="#0000ff"/>
<ellipse cx="107" cy="1122.29" rx="2.5" ry="2.6" fill="#0000ff"/>
<ellipse cx="164.5" cy="1066.9" rx="2.5" ry="2.6" fill="#0000ff"/>
<ellipse cx="222" cy="1054.85" rx="2.5" ry="2.6" fill="#0000ff"/>
<ellipse cx="279.5" cy="1041.21" rx="2.5" ry="2.6" fill="#0000ff"/>
<ellipse cx="337" cy="1046.02" rx="2.5" ry="2.6" fill="#0000ff"/>
<ellipse cx="394.5" cy="1043.61" rx="2.5" ry="2.6" fill="#0000ff"/>
<ellipse cx="452" cy="1046.02" rx="2.5" ry="2.6" fill="#0000ff"/>
<ellipse cx="509.5" cy="1044.42" rx="2.5" ry="2.6" fill="#0000ff"/>
<ellipse cx="567" cy="1040.4" rx="2.5" ry="2.6" fill="#0000ff"/>
<ellipse cx="624.5" cy="1042.01" rx="2.5" ry="2.6" fill="#0000ff"/>
<g transform="scale(0.666667 1)"><polyline points="74.25,1281.26 160.5,1163.24 246.75,1138.35 333,1130.32 419.25,1117.48 505.5,1108.65 591.75,1107.04 678,1099.81 764.25,1099.01 850.5,1101.42 936.75,1099.01" fill="none" stroke="#008000" stroke-width="1.8" stroke-dasharray="7.5 3.75"/></g>
<ellipse cx="49.5" cy="1281.26" rx="2.5" ry="2.6" fill="#008000"/>
<ellipse cx="107" cy="1163.24" rx="2.5" ry="2.6" fill="#008000"/>
<ellipse cx="164.5" cy="1138.35" rx="2.5" ry="2.6" fill="#008000"/>
<ellipse cx="222" cy="1130.32" rx="2.5" ry="2.6" fill="#008000"/>
<ellipse cx="279.5" cy="1117.48" rx="2.5" ry="2.6" fill="#008000"/>
<ellipse cx="337" cy="1108.65" rx="2.5" ry="2.6" fill="#008000"/>
<ellipse cx="394.5" cy="1107.04" rx="2.5" ry="2.6" fill="#008000"/>
<ellipse cx="452" cy="1099.81" rx="2.5" ry="2.6" fill="#008000"/>
<ellipse cx="509.5" cy="1099.01" rx="2.5" ry="2.6" fill="#008000"/>
<ellipse cx="567" cy="1101.42" rx="2.5" ry="2.6" fill="#008000"/>
<ellipse cx="624.5" cy="1099.01" rx="2.5" ry="2.6" fill="#008000"/>
<g transform="scale(0.666667 1)"><polyline points="74.25,1258.78 160.5,1172.87 246.75,1161.63 333,1155.21 419.25,1156.01 505.5,1154.41 591.75,1145.58 678,1142.37 764.25,1139.96 850.5,1139.15 936.75,1136.75" fill="none" stroke="#ff0000" stroke-width="1.8" stroke-dasharray="7.5 3.75"/></g>
<ellipse cx="49.5" cy="1258.78" rx="2.5" ry="2.6" fill="#ff0000"/>
<ellipse cx="107" cy="1172.87" rx="2.5" ry="2.6" fill="#ff0000"/>
<ellipse cx="164.5" cy="1161.63" rx="2.5" ry="2.6" fill="#ff0000"/>
<ellipse cx="222" cy="1155.21" rx="2.5" ry="2.6" fill="#ff0000"/>
<ellipse cx="279.5" cy="1156.01" rx="2.5" ry="2.6" fill="#ff0000"/>
<ellipse cx="337" cy="1154.41" rx="2.5" ry="2.6" fill="#ff0000"/>
<ellipse cx="394.5" cy="1145.58" rx="2.5" ry="2.6" fill="#ff0000"/>
<ellipse cx="452" cy="1142.37" rx="2.5" ry="2.6" fill="#ff0000"/>
<ellipse cx="509.5" cy="1139.96" rx="2.5" ry="2.6" fill="#ff0000"/>
<ellipse cx="567" cy="1139.15" rx="2.5" ry="2.6" fill="#ff0000"/>
<ellipse cx="624.5" cy="1136.75" rx="2.5" ry="2.6" fill="#ff0000"/>
<g transform="scale(0.666667 1)"><polyline points="74.25,1242.72 160.5,1167.25 246.75,1164.04 333,1159.23 419.25,1160.83 505.5,1160.03 591.75,1158.42 678,1156.01 764.25,1155.21 850.5,1154.41 936.75,1152.8" fill="none" stroke="#00bfbf" stroke-width="1.8" stroke-dasharray="7.5 3.75"/></g>
<ellipse cx="49.5" cy="1242.72" rx="2.5" ry="2.6" fill="#00bfbf"/>
<ellipse cx="107" cy="1167.25" rx="2.5" ry="2.6" fill="#00bfbf"/>
<ellipse cx="164.5" cy="1164.04" rx="2.5" ry="2.6" fill="#00bfbf"/>
<ellipse cx="222" cy="1159.23" rx="2.5" ry="2.6" fill="#00bfbf"/>
<ellipse cx="279.5" cy="1160.83" rx="2.5" ry="2.6" fill="#00bfbf"/>
<ellipse cx="337" cy="1160.03" rx="2.5" ry="2.6" fill="#00bfbf"/>
<ellipse cx="394.5" cy="1158.42" rx="2.5" ry="2.6" fill="#00bfbf"/>
<ellipse cx="452" cy="1156.01" rx="2.5" ry="2.6" fill="#00bfbf"/>
<ellipse cx="509.5" cy="1155.21" rx="2.5" ry="2.6" fill="#00bfbf"/>
<ellipse cx="567" cy="1154.41" rx="2.5" ry="2.6" fill="#00bfbf"/>
<ellipse cx="624.5" cy="1152.8" rx="2.5" ry="2.6" fill="#00bfbf"/>
<g transform="scale(0.666667 1)"><polyline points="74.25,1142.37 160.5,1130.32 246.75,1131.13 333,1130.32 419.25,1131.93 505.5,1127.91 591.75,1125.51 678,1125.51 764.25,1123.9 850.5,1126.31 936.75,1124.7" fill="none" stroke="#0000ff" stroke-width="1.6"/></g>
<path d="M46.6 1138.97L52.4 1145.77M46.6 1145.77L52.4 1138.97" stroke="#0000ff" stroke-width="1.6" fill="none"/>
<path d="M104.1 1126.92L109.9 1133.72M104.1 1133.72L109.9 1126.92" stroke="#0000ff" stroke-width="1.6" fill="none"/>
<path d="M161.6 1127.73L167.4 1134.53M161.6 1134.53L167.4 1127.73" stroke="#0000ff" stroke-width="1.6" fill="none"/>
<path d="M219.1 1126.92L224.9 1133.72M219.1 1133.72L224.9 1126.92" stroke="#0000ff" stroke-width="1.6" fill="none"/>
<path d="M276.6 1128.53L282.4 1135.33M276.6 1135.33L282.4 1128.53" stroke="#0000ff" stroke-width="1.6" fill="none"/>
<path d="M334.1 1124.51L339.9 1131.31M334.1 1131.31L339.9 1124.51" stroke="#0000ff" stroke-width="1.6" fill="none"/>
<path d="M391.6 1122.11L397.4 1128.91M391.6 1128.91L397.4 1122.11" stroke="#0000ff" stroke-width="1.6" fill="none"/>
<path d="M449.1 1122.11L454.9 1128.91M449.1 1128.91L454.9 1122.11" stroke="#0000ff" stroke-width="1.6" fill="none"/>
<path d="M506.6 1120.5L512.4 1127.3M506.6 1127.3L512.4 1120.5" stroke="#0000ff" stroke-width="1.6" fill="none"/>
<path d="M564.1 1122.91L569.9 1129.71M564.1 1129.71L569.9 1122.91" stroke="#0000ff" stroke-width="1.6" fill="none"/>
<path d="M621.6 1121.3L627.4 1128.1M621.6 1128.1L627.4 1121.3" stroke="#0000ff" stroke-width="1.6" fill="none"/>
<g transform="scale(0.666667 1)"><polyline points="74.25,1168.06 160.5,1164.85 246.75,1166.45 333,1164.04 419.25,1163.24 505.5,1163.24 591.75,1163.24 678,1162.44 764.25,1162.44 850.5,1163.24 936.75,1163.24" fill="none" stroke="#008000" stroke-width="1.6"/></g>
<path d="M46.6 1164.66L52.4 1171.46M46.6 1171.46L52.4 1164.66" stroke="#008000" stroke-width="1.6" fill="none"/>
<path d="M104.1 1161.45L109.9 1168.25M104.1 1168.25L109.9 1161.45" stroke="#008000" stroke-width="1.6" fill="none"/>
<path d="M161.6 1163.05L167.4 1169.85M161.6 1169.85L167.4 1163.05" stroke="#008000" stroke-width="1.6" fill="none"/>
<path d="M219.1 1160.64L224.9 1167.44M219.1 1167.44L224.9 1160.64" stroke="#008000" stroke-width="1.6" fill="none"/>
<path d="M276.6 1159.84L282.4 1166.64M276.6 1166.64L282.4 1159.84" stroke="#008000" stroke-width="1.6" fill="none"/>
<path d="M334.1 1159.84L339.9 1166.64M334.1 1166.64L339.9 1159.84" stroke="#008000" stroke-width="1.6" fill="none"/>
<path d="M391.6 1159.84L397.4 1166.64M391.6 1166.64L397.4 1159.84" stroke="#008000" stroke-width="1.6" fill="none"/>
<path d="M449.1 1159.04L454.9 1165.84M449.1 1165.84L454.9 1159.04" stroke="#008000" stroke-width="1.6" fill="none"/>
<path d="M506.6 1159.04L512.4 1165.84M506.6 1165.84L512.4 1159.04" stroke="#008000" stroke-width="1.6" fill="none"/>
<path d="M564.1 1159.84L569.9 1166.64M564.1 1166.64L569.9 1159.84" stroke="#008000" stroke-width="1.6" fill="none"/>
<path d="M621.6 1159.84L627.4 1166.64M621.6 1166.64L627.4 1159.84" stroke="#008000" stroke-width="1.6" fill="none"/>
<g transform="scale(0.666667 1)"><polyline points="74.25,1161.63 160.5,1152.8 246.75,1153.61 333,1155.21 419.25,1154.41 505.5,1153.61 591.75,1152.8 678,1152.8 764.25,1152 850.5,1152 936.75,1150.39" fill="none" stroke="#ff0000" stroke-width="1.6"/></g>
<path d="M46.6 1158.23L52.4 1165.03M46.6 1165.03L52.4 1158.23" stroke="#ff0000" stroke-width="1.6" fill="none"/>
<path d="M104.1 1149.4L109.9 1156.2M104.1 1156.2L109.9 1149.4" stroke="#ff0000" stroke-width="1.6" fill="none"/>
<path d="M161.6 1150.21L167.4 1157.01M161.6 1157.01L167.4 1150.21" stroke="#ff0000" stroke-width="1.6" fill="none"/>
<path d="M219.1 1151.81L224.9 1158.61M219.1 1158.61L224.9 1151.81" stroke="#ff0000" stroke-width="1.6" fill="none"/>
<path d="M276.6 1151.01L282.4 1157.81M276.6 1157.81L282.4 1151.01" stroke="#ff0000" stroke-width="1.6" fill="none"/>
<path d="M334.1 1150.21L339.9 1157.01M334.1 1157.01L339.9 1150.21" stroke="#ff0000" stroke-width="1.6" fill="none"/>
<path d="M391.6 1149.4L397.4 1156.2M391.6 1156.2L397.4 1149.4" stroke="#ff0000" stroke-width="1.6" fill="none"/>
<path d="M449.1 1149.4L454.9 1156.2M449.1 1156.2L454.9 1149.4" stroke="#ff0000" stroke-width="1.6" fill="none"/>
<path d="M506.6 1148.6L512.4 1155.4M506.6 1155.4L512.4 1148.6" stroke="#ff0000" stroke-width="1.6" fill="none"/>
<path d="M564.1 1148.6L569.9 1155.4M564.1 1155.4L569.9 1148.6" stroke="#ff0000" stroke-width="1.6" fill="none"/>
<path d="M621.6 1146.99L627.4 1153.79M621.6 1153.79L627.4 1146.99" stroke="#ff0000" stroke-width="1.6" fill="none"/>
<g transform="scale(0.666667 1)"><polyline points="74.25,1159.23 160.5,1155.21 246.75,1152 333,1150.39 419.25,1150.39 505.5,1150.39 591.75,1151.2 678,1152 764.25,1153.61 850.5,1152.8 936.75,1152.8" fill="none" stroke="#00bfbf" stroke-width="1.6"/></g>
<path d="M46.6 1155.83L52.4 1162.63M46.6 1162.63L52.4 1155.83" stroke="#00bfbf" stroke-width="1.6" fill="none"/>
<path d="M104.1 1151.81L109.9 1158.61M104.1 1158.61L109.9 1151.81" stroke="#00bfbf" stroke-width="1.6" fill="none"/>
<path d="M161.6 1148.6L167.4 1155.4M161.6 1155.4L167.4 1148.6" stroke="#00bfbf" stroke-width="1.6" fill="none"/>
<path d="M219.1 1146.99L224.9 1153.79M219.1 1153.79L224.9 1146.99" stroke="#00bfbf" stroke-width="1.6" fill="none"/>
<path d="M276.6 1146.99L282.4 1153.79M276.6 1153.79L282.4 1146.99" stroke="#00bfbf" stroke-width="1.6" fill="none"/>
<path d="M334.1 1146.99L339.9 1153.79M334.1 1153.79L339.9 1146.99" stroke="#00bfbf" stroke-width="1.6" fill="none"/>
<path d="M391.6 1147.8L397.4 1154.6M391.6 1154.6L397.4 1147.8" stroke="#00bfbf" stroke-width="1.6" fill="none"/>
<path d="M449.1 1148.6L454.9 1155.4M449.1 1155.4L454.9 1148.6" stroke="#00bfbf" stroke-width="1.6" fill="none"/>
<path d="M506.6 1150.21L512.4 1157.01M506.6 1157.01L512.4 1150.21" stroke="#00bfbf" stroke-width="1.6" fill="none"/>
<path d="M564.1 1149.4L569.9 1156.2M564.1 1156.2L569.9 1149.4" stroke="#00bfbf" stroke-width="1.6" fill="none"/>
<path d="M621.6 1149.4L627.4 1156.2M621.6 1156.2L627.4 1149.4" stroke="#00bfbf" stroke-width="1.6" fill="none"/>
<rect x="478.5" y="1173.5" width="138" height="112" fill="#ffffff" stroke="#6e6e6e" stroke-width="1"/>
<path d="M485.1 1181.9H509.4" stroke="#0000ff" stroke-width="1.8" stroke-dasharray="5.2 2.4" fill="none"/>
<circle cx="496" cy="1181.9" r="2.8000000000000003" fill="#0000ff"/>
<text x="512.6" y="1185.05" class="lg">OMP-PKS+RS (p=0.6)</text>
<path d="M485.1 1195.4H509.4" stroke="#008000" stroke-width="1.8" stroke-dasharray="5.2 2.4" fill="none"/>
<circle cx="496" cy="1195.4" r="2.8000000000000003" fill="#008000"/>
<text x="512.6" y="1198.55" class="lg">OMP-PKS+RS (p=0.7)</text>
<path d="M485.1 1208.9H509.4" stroke="#ff0000" stroke-width="1.8" stroke-dasharray="5.2 2.4" fill="none"/>
<circle cx="496" cy="1208.9" r="2.8000000000000003" fill="#ff0000"/>
<text x="512.6" y="1212.05" class="lg">OMP-PKS+RS (p=0.8)</text>
<path d="M485.1 1222.4H509.4" stroke="#00bfbf" stroke-width="1.8" stroke-dasharray="5.2 2.4" fill="none"/>
<circle cx="496" cy="1222.4" r="2.8000000000000003" fill="#00bfbf"/>
<text x="512.6" y="1225.55" class="lg">OMP-PKS+RS (p=0.9)</text>
<path d="M483.2 1235.9H509.4" stroke="#0000ff" stroke-width="1.6" fill="none"/>
<path d="M493.1 1232.5L498.9 1239.3M493.1 1239.3L498.9 1232.5" stroke="#0000ff" stroke-width="1.6" fill="none"/>
<text x="512.6" y="1239.05" class="lg">DCS-SOMP (p=0.6)</text>
<path d="M483.2 1249.4H509.4" stroke="#008000" stroke-width="1.6" fill="none"/>
<path d="M493.1 1246L498.9 1252.8M493.1 1252.8L498.9 1246" stroke="#008000" stroke-width="1.6" fill="none"/>
<text x="512.6" y="1252.55" class="lg">DCS-SOMP (p=0.7)</text>
<path d="M483.2 1262.9H509.4" stroke="#ff0000" stroke-width="1.6" fill="none"/>
<path d="M493.1 1259.5L498.9 1266.3M493.1 1266.3L498.9 1259.5" stroke="#ff0000" stroke-width="1.6" fill="none"/>
<text x="512.6" y="1266.05" class="lg">DCS-SOMP (p=0.8)</text>
<path d="M483.2 1276.4H509.4" stroke="#00bfbf" stroke-width="1.6" fill="none"/>
<path d="M493.1 1273L498.9 1279.8M493.1 1279.8L498.9 1273" stroke="#00bfbf" stroke-width="1.6" fill="none"/>
<text x="512.6" y="1279.55" class="lg">DCS-SOMP (p=0.9)</text></g>
</svg>
</body></html>
